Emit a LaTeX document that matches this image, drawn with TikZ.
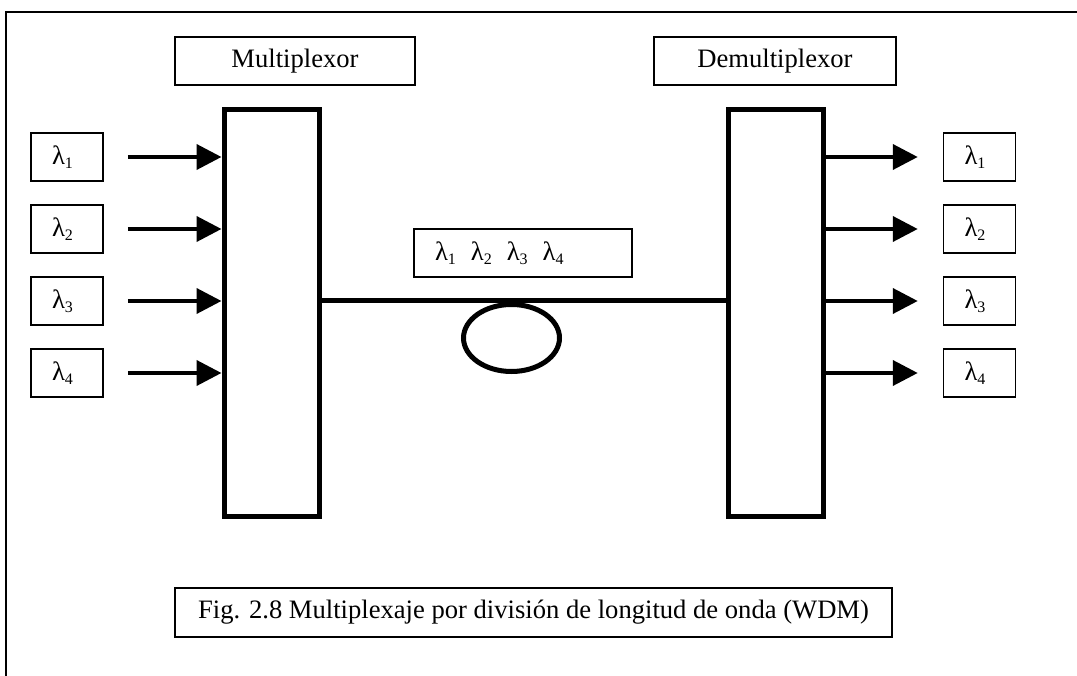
\documentclass[tikz,border=0pt]{standalone}
\usepackage{fontspec}
\setmainfont{Liberation Serif}
\usetikzlibrary{arrows.meta,shapes.geometric}
\newcommand{\lsub}[1]{λ\raisebox{-4pt}{\fontsize{16}{16}\selectfont #1}}
\begin{document}
\begin{tikzpicture}[x=1pt, y=-1pt, font=\fontsize{26.6}{32}\selectfont, >={Triangle[length=25pt,width=25pt]},
	labelbox/.style={draw, line width=1.5pt, inner sep=0pt, minimum height=48pt},
	wavebox/.style={labelbox, text width=30pt, align=left, inner xsep=21pt},
	block/.style={draw, line width=5pt, inner sep=0pt, minimum width=95pt, minimum height=407pt},
	ray/.style={->, line width=4pt}]
	\useasboundingbox (0,0) rectangle (1077,676);
	\draw[line width=2pt] (1077,12) -- (6,12) -- (6,676);
	\node[labelbox, minimum width=240pt] (muxname) at (295,61) {Multiplexor};
	\node[labelbox, minimum width=242pt] (demuxname) at (775,61) {Demultiplexor};
	\node[block] (mux) at (271.5,313) {};
	\node[block] (demux) at (775.5,313) {};
	\foreach \i/\y in {1/157,2/229,3/301,4/373} {
		\node[wavebox] (in\i) at (67,\y) {\lsub{\i}};
		\node[wavebox] (out\i) at (979.5,\y) {\lsub{\i}};
		\draw[ray, shorten <=24pt] (in\i) -- (mux.west |- in\i);
		\draw[ray, shorten >=25pt] (demux.east |- out\i) -- (out\i);
	}
	\draw[line width=5pt] (mux.east |- in3) -- (demux.west |- in3);
	\node[draw, ellipse, line width=5pt, inner sep=0pt, minimum width=96pt, minimum height=67pt] (coil) at (511.5,338) {};
	\node[labelbox, text width=176pt, align=left, inner xsep=21pt] (group) at (523,253) {\lsub{1}\hspace{15pt}\lsub{2}\hspace{15pt}\lsub{3}\hspace{15pt}\lsub{4}};
	\node[draw, line width=2.5pt, inner sep=0pt, minimum width=717pt, minimum height=49pt] (caption) at (533.5,612.5) {Fig. 2.8 Multiplexaje por división de longitud de onda (WDM)};
\end{tikzpicture}
\end{document}
